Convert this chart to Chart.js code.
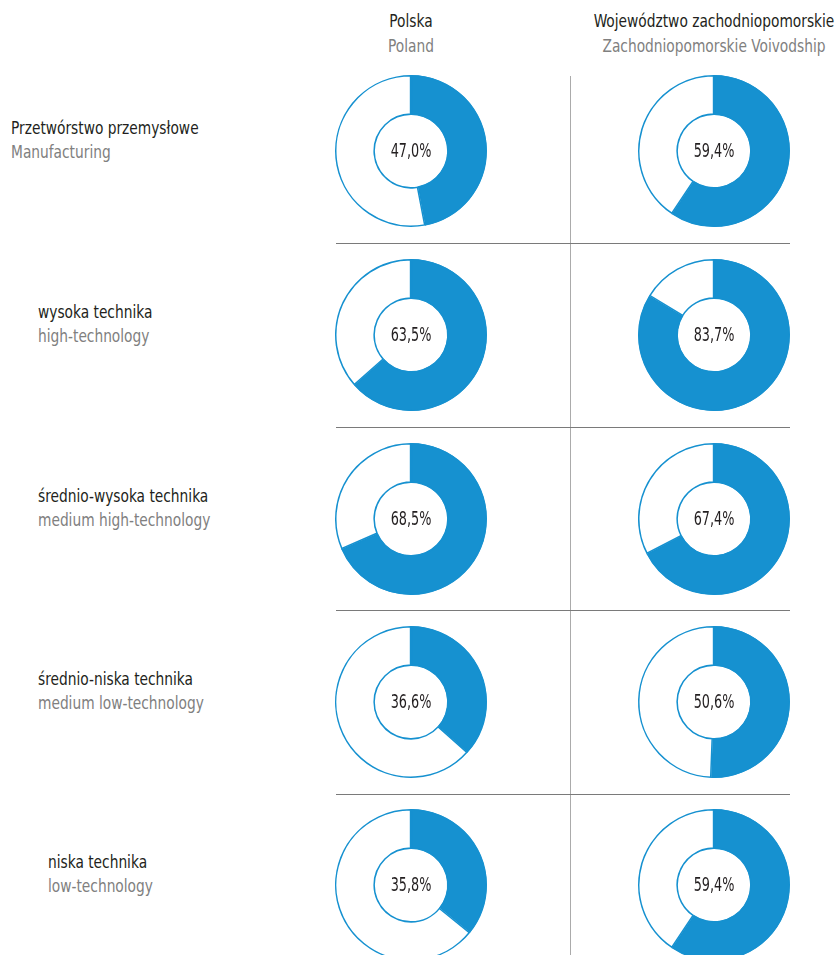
<!DOCTYPE html>
<html>
<head>
<meta charset="utf-8">
<script src="https://cdn.jsdelivr.net/npm/chart.js@4.4.1/dist/chart.umd.min.js"></script>
<style>
  html, body { margin: 0; padding: 0; background: #fff; }
  body { width: 838px; height: 955px; position: relative; overflow: hidden;
         font-family: "DejaVu Sans Condensed", "DejaVu Sans", sans-serif; }
  .lbl { position: absolute; font-size: 17px; line-height: 24px; color: #231f20; white-space: nowrap;
         transform: scaleX(0.9); transform-origin: 0 0; }
  .lbl span { display: block; color: #808080; }
  .head { position: absolute; font-size: 17px; line-height: 25px; color: #231f20; text-align: center; white-space: nowrap;
          transform: translateX(-50%) scaleX(0.9); }
  .head span { display: block; color: #808080; }
  .hline { position: absolute; height: 1px; background: #7a7a7a; }
  .vline { position: absolute; width: 1px; background: #ababab; }
  canvas.donut { position: absolute; }
</style>
</head>
<body>
<script>
// data
const regions = ['Polska|Poland', 'Województwo zachodniopomorskie|Zachodniopomorskie Voivodship'];
const sectors = [
  'Przetwórstwo przemysłowe|Manufacturing',
  'wysoka technika|high-technology',
  'średnio-wysoka technika|medium high-technology',
  'średnio-niska technika|medium low-technology',
  'niska technika|low-technology'
];
const polandValues = [47.0, 63.5, 68.5, 36.6, 35.8];
const zachValues = [59.4, 83.7, 67.4, 50.6, 59.4];

const blue = '#1691d0';
const colX = [411, 714];
const rowY = [151, 335, 519, 702, 885];
const labelX = [11, 38, 38, 38, 48];

// headers
regions.forEach((r, i) => {
  const [pl, en] = r.split('|');
  const d = document.createElement('div');
  d.className = 'head';
  d.style.left = colX[i] + 'px';
  d.style.top = '9px';
  d.innerHTML = pl + '<span>' + en + '</span>';
  document.body.appendChild(d);
});

// row labels
sectors.forEach((s, i) => {
  const [pl, en] = s.split('|');
  const d = document.createElement('div');
  d.className = 'lbl';
  d.style.left = labelX[i] + 'px';
  d.style.top = (rowY[i] - 35) + 'px';
  d.innerHTML = pl + '<span>' + en + '</span>';
  document.body.appendChild(d);
});

// grid lines
const v = document.createElement('div');
v.className = 'vline';
v.style.left = '570px'; v.style.top = '76px'; v.style.height = '880px';
document.body.appendChild(v);
[243, 427, 610, 794].forEach(y => {
  const h = document.createElement('div');
  h.className = 'hline';
  h.style.left = '336px'; h.style.top = y + 'px'; h.style.width = '454px';
  document.body.appendChild(h);
});

// percentage in the hole of each donut
const centerText = {
  id: 'centerText',
  afterDraw(chart) {
    const ctx = chart.ctx;
    const meta = chart.getDatasetMeta(0).data[0];
    const val = chart.data.datasets[0].data[0];
    ctx.save();
    ctx.translate(meta.x, meta.y + 1);
    ctx.scale(0.75, 1);
    ctx.font = '19px "DejaVu Sans Condensed", "DejaVu Sans", sans-serif';
    ctx.fillStyle = '#231f20';
    ctx.textAlign = 'center';
    ctx.textBaseline = 'middle';
    ctx.fillText(val.toFixed(1).replace('.', ',') + '%', 0, 0);
    ctx.restore();
  }
};

function makeDonut(value, cx, cy) {
  const c = document.createElement('canvas');
  c.className = 'donut';
  c.width = 160; c.height = 160;
  c.style.width = '160px'; c.style.height = '160px';
  c.style.left = (cx - 80) + 'px';
  c.style.top = (cy - 80) + 'px';
  document.body.appendChild(c);
  new Chart(c.getContext('2d'), {
    type: 'doughnut',
    data: {
      labels: ['share', 'rest'],
      datasets: [{
        data: [value, +(100 - value).toFixed(1)],
        backgroundColor: [blue, '#ffffff'],
        borderColor: blue,
        borderWidth: 1.2,
        borderAlign: 'inner'
      }]
    },
    options: {
      responsive: false,
      animation: false,
      radius: 76,
      cutout: 38,
      layout: { padding: 0 },
      plugins: { legend: { display: false }, tooltip: { enabled: false } },
      events: []
    },
    plugins: [centerText]
  });
}

rowY.forEach((y, i) => {
  makeDonut(polandValues[i], colX[0], y);
  makeDonut(zachValues[i], colX[1], y);
});
</script>
</body>
</html>
